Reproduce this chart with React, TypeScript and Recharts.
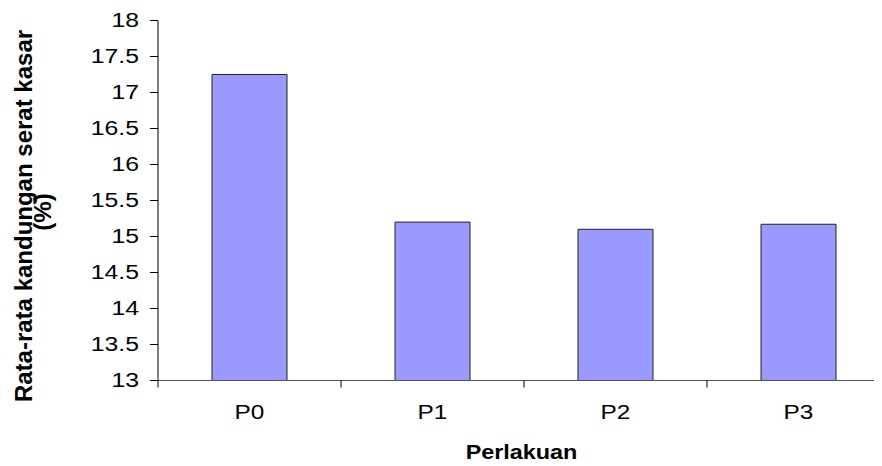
import React from "react";
import { BarChart, Bar, XAxis, YAxis, Label } from "recharts";

const categories = ["P0", "P1", "P2", "P3"];
const seriesValues = [17.25, 15.2, 15.1, 15.17];
const yTicks = [13, 13.5, 14, 14.5, 15, 15.5, 16, 16.5, 17, 17.5, 18];
const yTitleLines = ["Rata-rata kandungan serat kasar", "(%)"];
const xTitle = "Perlakuan";

const data = categories.map((c, i) => ({ name: c, value: seriesValues[i] }));

const CHART_W = 900;
const CHART_H = 458;
const MARGIN = { top: 12.5, right: 18, bottom: 5.5, left: 0 };
const Y_AXIS_W = 150;
const X_AXIS_H = 80;
const PLOT_W = CHART_W - MARGIN.left - MARGIN.right - Y_AXIS_W;
const BAND = PLOT_W / categories.length;
const FONT = "'Liberation Sans', Arial, sans-serif";

const XTick = (props: any) => {
  const { x, y, payload } = props;
  const bx = x - BAND / 2;
  return (
    <g>
      <line x1={bx} y1={y} x2={bx} y2={y + 7} stroke="#000" strokeWidth={1} />
      <g transform={`translate(${x},${y + 38.5}) scale(1.25,1)`}>
        <text x={0} y={0} textAnchor="middle" fontFamily={FONT} fontSize={19.5} fill="#000">
          {payload.value}
        </text>
      </g>
    </g>
  );
};

const YTick = (props: any) => {
  const { x, y, payload } = props;
  return (
    <g transform={`translate(${x},${y + 6.5}) scale(1.27,1)`}>
      <text x={0} y={0} textAnchor="end" fontFamily={FONT} fontSize={19.5} fill="#000">
        {payload.value}
      </text>
    </g>
  );
};

const YTitle = () => {
  const cx = 24;
  const cy = 208;
  return (
    <text
      transform={`rotate(-90, ${cx}, ${cy})`}
      x={cx}
      y={cy}
      textAnchor="middle"
      fontFamily={FONT}
      fontWeight="bold"
      fontSize={24}
      fill="#000"
    >
      <tspan x={cx} y={cy}>{yTitleLines[0]}</tspan>
      <tspan x={cx + 4} y={cy + 19}>{yTitleLines[1]}</tspan>
    </text>
  );
};

const XTitle = (props: any) => {
  const vb = props.viewBox || {};
  const cx = 513.5;
  const baseY = (vb.y ?? 372.5) + 78.5;
  return (
    <g transform={`translate(${cx},${baseY}) scale(1.2,1)`}>
      <text x={0} y={0} textAnchor="middle" fontFamily={FONT} fontWeight="bold" fontSize={19.5} fill="#000">
        {xTitle}
      </text>
    </g>
  );
};

export default function App() {
  return (
    <div style={{ width: 874, height: CHART_H, overflow: "hidden" }}>
      <BarChart width={CHART_W} height={CHART_H} data={data} margin={MARGIN}>
        <XAxis
          dataKey="name"
          height={X_AXIS_H}
          axisLine={{ stroke: "#555", strokeWidth: 1 }}
          tickLine={false}
          tickSize={0}
          tickMargin={0}
          tick={<XTick />}
          interval={0}
        >
          <Label content={<XTitle />} />
        </XAxis>
        <YAxis
          type="number"
          domain={[13, 18]}
          ticks={yTicks}
          interval={0}
          width={Y_AXIS_W}
          axisLine={{ stroke: "#000", strokeWidth: 1 }}
          tickLine={{ stroke: "#000", strokeWidth: 1 }}
          tickSize={8}
          tickMargin={11}
          tick={<YTick />}
          allowDataOverflow
        >
          <Label content={<YTitle />} />
        </YAxis>
        <Bar
          dataKey="value"
          fill="#9999FF"
          stroke="#222"
          strokeWidth={1}
          barSize={75}
          isAnimationActive={false}
        />
      </BarChart>
    </div>
  );
}
